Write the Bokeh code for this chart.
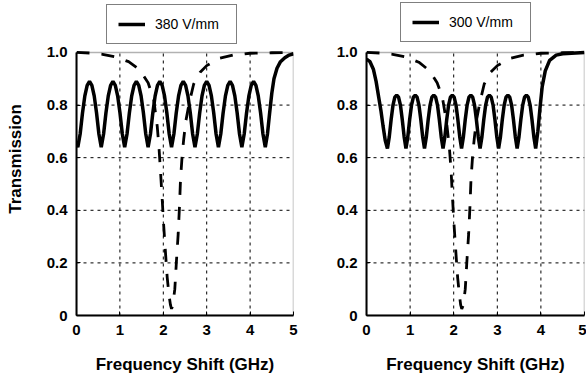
from bokeh.plotting import figure
from bokeh.layouts import row
from bokeh.models import FixedTicker, Legend, LegendItem, Range1d, BoxAnnotation
from bokeh.embed import file_html
from bokeh.resources import INLINE

# ---------------- data ----------------
x_ticks = [0, 1, 2, 3, 4, 5]
y_ticks = [0, 0.2, 0.4, 0.6, 0.8, 1.0]
y_tick_labels = ["0", "0.2", "0.4", "0.6", "0.8", "1.0"]

legend_left = "380 V/mm"
legend_right = "300 V/mm"
x_label = "Frequency Shift (GHz)"
y_label = "Transmission"

# 380 V/mm solid curve
solid_380_x = [0.0,
    0.03, 0.084, 0.138, 0.192, 0.246, 0.30, 0.354, 0.408, 0.462, 0.516,
    0.57, 0.624, 0.678, 0.732, 0.786, 0.84, 0.894, 0.948, 1.002, 1.056,
    1.11, 1.164, 1.218, 1.272, 1.326, 1.38, 1.434, 1.488, 1.542, 1.596,
    1.65, 1.704, 1.758, 1.812, 1.866, 1.92, 1.974, 2.028, 2.082, 2.136,
    2.19, 2.244, 2.298, 2.352, 2.406, 2.46, 2.514, 2.568, 2.622, 2.676,
    2.73, 2.784, 2.838, 2.892, 2.946, 3.00, 3.054, 3.108, 3.162, 3.216,
    3.27, 3.324, 3.378, 3.432, 3.486, 3.54, 3.594, 3.648, 3.702, 3.756,
    3.81, 3.864, 3.918, 3.972, 4.026, 4.08, 4.134, 4.188, 4.242, 4.296,
    4.35, 4.40, 4.45, 4.50, 4.55, 4.62, 4.70, 4.80, 4.90, 5.00]
solid_380_y = [0.655,
    0.64, 0.69, 0.77, 0.835, 0.875, 0.89, 0.875, 0.835, 0.77, 0.69,
    0.64, 0.69, 0.77, 0.835, 0.875, 0.89, 0.875, 0.835, 0.77, 0.69,
    0.64, 0.69, 0.77, 0.835, 0.875, 0.89, 0.875, 0.835, 0.77, 0.69,
    0.64, 0.69, 0.77, 0.835, 0.875, 0.89, 0.875, 0.835, 0.77, 0.69,
    0.64, 0.69, 0.77, 0.835, 0.875, 0.89, 0.875, 0.835, 0.77, 0.69,
    0.64, 0.69, 0.77, 0.835, 0.875, 0.89, 0.875, 0.835, 0.77, 0.69,
    0.64, 0.69, 0.77, 0.835, 0.875, 0.89, 0.875, 0.835, 0.77, 0.69,
    0.64, 0.69, 0.77, 0.835, 0.875, 0.89, 0.875, 0.835, 0.77, 0.69,
    0.64, 0.69, 0.77, 0.845, 0.90, 0.94, 0.965, 0.98, 0.99, 0.995]

# 380 V/mm dashed curve
dash_380_x = [0.0, 0.3, 0.6, 0.9, 1.2, 1.45, 1.65, 1.78, 1.86, 1.90, 1.935,
              1.975, 2.01, 2.05, 2.09, 2.13, 2.165, 2.19, 2.22, 2.265, 2.304,
              2.343, 2.373, 2.396, 2.435, 2.47, 2.52, 2.6, 2.7, 2.85, 3.0,
              3.3, 3.6, 4.0, 4.5, 5.0]
dash_380_y = [1.0, 0.998, 0.993, 0.983, 0.965, 0.935, 0.885, 0.82, 0.72, 0.64, 0.55,
              0.44, 0.34, 0.24, 0.145, 0.08, 0.04, 0.025, 0.04, 0.10, 0.21,
              0.31, 0.415, 0.515, 0.61, 0.67, 0.74, 0.81, 0.88, 0.925, 0.95,
              0.978, 0.99, 0.997, 0.999, 1.0]

# 300 V/mm solid curve
solid_300_x = [0.0, 0.08, 0.16, 0.22, 0.28, 0.33, 0.38, 0.43,
    0.48, 0.523, 0.565, 0.608, 0.65, 0.693, 0.735, 0.778, 0.82, 0.863,
    0.905, 0.948, 0.99, 1.033, 1.075, 1.118, 1.16, 1.203, 1.245, 1.288,
    1.33, 1.373, 1.415, 1.458, 1.50, 1.543, 1.585, 1.628, 1.67, 1.713,
    1.755, 1.798, 1.84, 1.883, 1.925, 1.968, 2.01, 2.053, 2.095, 2.138,
    2.18, 2.223, 2.265, 2.308, 2.35, 2.393, 2.435, 2.478, 2.52, 2.563,
    2.605, 2.648, 2.69, 2.733, 2.775, 2.818, 2.86, 2.903, 2.945, 2.988,
    3.03, 3.073, 3.115, 3.158, 3.20, 3.243, 3.285, 3.328, 3.37, 3.413,
    3.455, 3.498, 3.54, 3.583, 3.625, 3.668, 3.71, 3.753, 3.795, 3.838,
    3.88, 3.93, 3.98, 4.03, 4.10, 4.20, 4.35, 4.50, 5.0]
solid_300_y = [0.975, 0.965, 0.935, 0.89, 0.83, 0.78, 0.72, 0.665,
    0.635, 0.68, 0.745, 0.80, 0.83, 0.838, 0.83, 0.80, 0.745, 0.68,
    0.635, 0.68, 0.745, 0.80, 0.83, 0.838, 0.83, 0.80, 0.745, 0.68,
    0.635, 0.68, 0.745, 0.80, 0.83, 0.838, 0.83, 0.80, 0.745, 0.68,
    0.635, 0.68, 0.745, 0.80, 0.83, 0.838, 0.83, 0.80, 0.745, 0.68,
    0.635, 0.68, 0.745, 0.80, 0.83, 0.838, 0.83, 0.80, 0.745, 0.68,
    0.635, 0.68, 0.745, 0.80, 0.83, 0.838, 0.83, 0.80, 0.745, 0.68,
    0.635, 0.68, 0.745, 0.80, 0.83, 0.838, 0.83, 0.80, 0.745, 0.68,
    0.635, 0.68, 0.745, 0.80, 0.83, 0.838, 0.83, 0.80, 0.745, 0.68,
    0.635, 0.70, 0.79, 0.87, 0.93, 0.97, 0.99, 0.995, 1.0]

# 300 V/mm dashed curve
dash_300_x = [0.0, 0.3, 0.6, 0.9, 1.2, 1.45, 1.62, 1.74, 1.84, 1.90, 1.94,
              1.975, 2.01, 2.05, 2.09, 2.13, 2.16, 2.185, 2.22, 2.265, 2.304,
              2.343, 2.373, 2.396, 2.435, 2.47, 2.52, 2.6, 2.7, 2.85, 3.0,
              3.3, 3.6, 4.0, 4.5, 5.0]
dash_300_y = [1.0, 0.998, 0.993, 0.983, 0.963, 0.93, 0.885, 0.83, 0.73, 0.64, 0.55,
              0.44, 0.34, 0.24, 0.145, 0.08, 0.04, 0.025, 0.04, 0.10, 0.21,
              0.31, 0.415, 0.515, 0.61, 0.67, 0.74, 0.81, 0.88, 0.925, 0.95,
              0.978, 0.99, 0.997, 0.999, 1.0]

FONT = "Liberation Sans"
Y_TOP = 1.19   # extra room above the axes box for the legend


def make_panel(width, border_left, border_right, sx, sy, dx, dy, label, legend_pos, show_ylabel):
    p = figure(width=width, height=380, output_backend="svg", toolbar_location=None,
               x_range=Range1d(x_ticks[0], x_ticks[-1]), y_range=Range1d(0, Y_TOP),
               min_border_left=border_left, min_border_right=border_right,
               min_border_top=2, min_border_bottom=65)
    p.background_fill_color = "white"
    p.border_fill_color = "white"
    p.outline_line_color = None
    p.xgrid.grid_line_color = None
    p.ygrid.grid_line_color = None

    # dotted grid limited to the axes box
    gx = x_ticks[1:-1]
    gy = y_ticks[1:-1]
    p.segment(x0=gx, y0=[y_ticks[0]] * len(gx), x1=gx, y1=[y_ticks[-1]] * len(gx),
              line_color="black", line_width=1, line_dash="3 4")
    p.segment(x0=[x_ticks[0]] * len(gy), y0=gy, x1=[x_ticks[-1]] * len(gy), y1=gy,
              line_color="black", line_width=1, line_dash="3 4")

    p.xaxis.ticker = FixedTicker(ticks=x_ticks)
    p.yaxis.ticker = FixedTicker(ticks=y_ticks)
    p.yaxis.bounds = (y_ticks[0], y_ticks[-1])
    p.yaxis.major_label_overrides = {t: l for t, l in zip(y_ticks, y_tick_labels)}
    for ax in (p.xaxis[0], p.yaxis[0]):
        ax.axis_line_color = "black"
        ax.axis_line_width = 2
        ax.major_tick_in = 4
        ax.major_tick_out = 0
        ax.major_tick_line_color = "black"
        ax.minor_tick_line_color = None
        ax.major_label_text_font = FONT
        ax.major_label_text_font_style = "bold"
        ax.major_label_text_font_size = "15px"
        ax.major_label_text_color = "black"
        ax.axis_label_text_font = FONT
        ax.axis_label_text_font_style = "bold"
        ax.axis_label_text_font_size = "17px"
        ax.axis_label_text_color = "black"
    p.xaxis.major_label_standoff = 9
    p.yaxis.major_label_standoff = 9
    p.xaxis.axis_label = x_label
    p.xaxis.axis_label_standoff = 17
    if show_ylabel:
        p.yaxis.axis_label = y_label
        p.yaxis.axis_label_standoff = 19

    p.line(dx, dy, line_color="black", line_width=2.8, line_dash="13 12")
    s = p.line(sx, sy, line_color="black", line_width=3.5)

    box = BoxAnnotation(left=x_ticks[0], right=x_ticks[-1], bottom=y_ticks[0], top=y_ticks[-1],
                        fill_alpha=0, line_color="black", line_width=1.5)
    p.add_layout(box)

    leg = Legend(items=[LegendItem(label=label, renderers=[s])],
                 location=legend_pos)
    leg.border_line_color = "black"
    leg.border_line_width = 1.2
    leg.background_fill_color = "white"
    leg.background_fill_alpha = 1
    leg.padding = 11
    leg.margin = 0
    leg.glyph_width = 27
    leg.glyph_height = 12
    leg.label_standoff = 10
    leg.label_width = 70
    leg.label_height = 12
    leg.label_text_font = FONT
    leg.label_text_font_size = "14px"
    leg.label_text_color = "black"
    p.add_layout(leg, "center")
    return p


left = make_panel(300, 76, 7, solid_380_x, solid_380_y, dash_380_x, dash_380_y,
                  legend_left, (30, 271), True)
right = make_panel(286, 66, 2, solid_300_x, solid_300_y, dash_300_x, dash_300_y,
                   legend_right, (34, 273), False)

layout = row(left, right)
open("out.html", "w").write(file_html(layout, INLINE))
